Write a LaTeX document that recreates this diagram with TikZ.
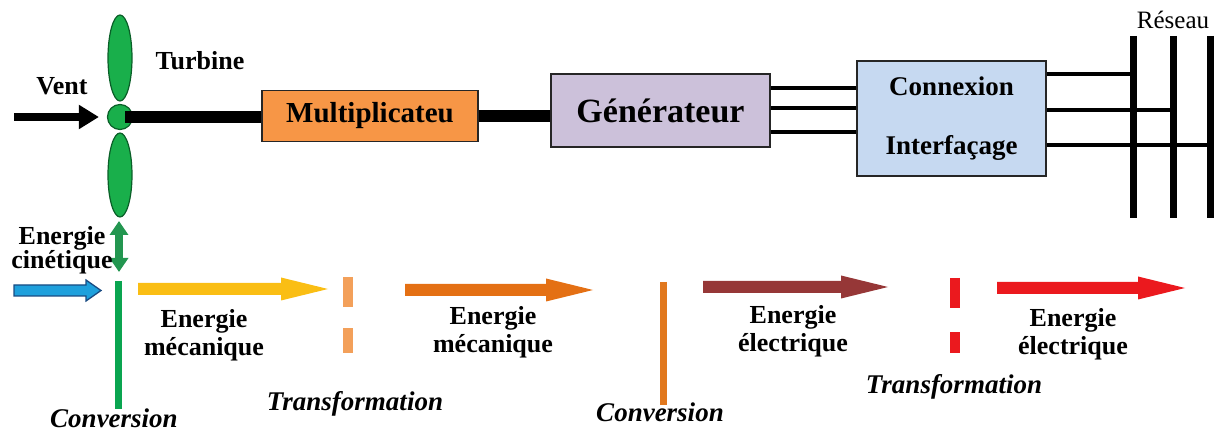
\documentclass[tikz,border=0pt]{standalone}
\usepackage{fontspec}
\setmainfont{Liberation Serif}
\usetikzlibrary{arrows.meta,shapes.geometric}

\definecolor{bladegreen}{RGB}{25,175,75}
\definecolor{bladeedge}{RGB}{10,95,40}
\definecolor{kingreen}{RGB}{35,150,80}
\definecolor{convgreen}{RGB}{10,165,80}
\definecolor{multorange}{RGB}{247,150,70}
\definecolor{genlilac}{RGB}{204,193,218}
\definecolor{connblue}{RGB}{198,217,241}
\definecolor{windblue}{RGB}{30,160,220}
\definecolor{windedge}{RGB}{25,75,130}
\definecolor{mechyellow}{RGB}{250,190,20}
\definecolor{mechorange}{RGB}{228,112,20}
\definecolor{trorange}{RGB}{243,160,90}
\definecolor{convorange}{RGB}{225,120,30}
\definecolor{elecbrown}{RGB}{150,55,55}
\definecolor{elecred}{RGB}{235,25,30}

\begin{document}
\begin{tikzpicture}[x=1pt,y=1pt,yscale=-1,
  lbl/.style={font=\fontsize{26}{28}\selectfont\bfseries,align=center,inner sep=0pt},
  steplbl/.style={font=\fontsize{27}{29}\selectfont\bfseries\itshape,inner sep=0pt},
  blockbox/.style={draw=black!85,line width=1.8pt,inner sep=0pt,font=\fontsize{26}{28}\selectfont\bfseries},
  blade/.style={ellipse,draw=bladeedge,fill=bladegreen,line width=1.2pt,minimum width=24pt,inner sep=0pt},
  shaft/.style={line width=12pt},
  wire/.style={line width=3.5pt},
  bus/.style={line width=7pt},
  trmark/.style={line width=10pt,trorange},
]
\useasboundingbox (0,0) rectangle (1218,430);

%Shape: Turbine
\node[blade,minimum height=86pt] (bladeT) at (120,58) {};
\node[blade,minimum height=84pt] (bladeB) at (120,175) {};
\node[circle,draw=bladeedge,fill=bladegreen,line width=1.2pt,minimum size=25pt,inner sep=0pt] (hub) at (120,117) {};

% Text Node
\node[lbl] (vent) at (62,86) {Vent};
\node[lbl] (turbine) at (200,61) {Turbine};
\coordinate (ventIn) at (14,117);
\draw[line width=8pt,-{Triangle[length=20pt,width=23pt]}] (ventIn) -- ([xshift=-8pt]hub.west);

%Shape: Blocks
\node[blockbox,fill=multorange,minimum width=216pt,minimum height=51pt,font=\fontsize{29}{31}\selectfont\bfseries] (mult) at (370,116) {Multiplicateu};
\node[blockbox,fill=genlilac,minimum width=219pt,minimum height=73pt,font=\fontsize{34}{36}\selectfont\bfseries] (gen) at (660.5,110.5) {Générateur};
\node[blockbox,fill=connblue,minimum width=189pt,minimum height=115pt,align=center,font=\fontsize{27}{28}\selectfont\bfseries] (conn) at (951.5,118.5) {Connexion\\[31pt]Interfaçage};

\draw[shaft] ([xshift=5pt]hub.center) -- (hub.center -| mult.west);
\draw[shaft] (mult.east) -- (mult.east -| gen.west);
\foreach \y in {88,108,132} \draw[wire] (gen.east |- 0,\y) -- (conn.west |- 0,\y);

%Shape: Reseau
\coordinate (bus1) at (1133,36);
\coordinate (bus2) at (1173,36);
\coordinate (bus3) at (1210,36);
\foreach \b in {bus1,bus2,bus3} \draw[bus] (\b) -- (\b |- 0,218);
\draw[wire] (conn.east |- 0,74) -- (bus1 |- 0,74);
\draw[wire] (conn.east |- 0,110) -- (bus2 |- 0,110);
\draw[wire] (conn.east |- 0,145) -- (bus3 |- 0,145);
\node[font=\fontsize{25}{27}\selectfont,inner sep=0pt] (reseau) at (1173,20) {Réseau};

%Shape: Energy chain
\coordinate (kinTop) at (119,221);
\coordinate (kinEnd) at (119,272);
\draw[kingreen,line width=8pt,{Triangle[length=14pt,width=18pt]}-{Triangle[length=14pt,width=18pt]}] (kinTop) -- (kinEnd);
\node[lbl,font=\fontsize{26}{24}\selectfont\bfseries] (kin) at (62,250) {Energie\\cinétique};
\draw[windedge,fill=windblue,line width=1.3pt] (14,285) -- (86,285) -- (86,280) -- (101,290.5) -- (86,301) -- (86,296) -- (14,296) -- cycle;

\draw[convgreen,line width=7pt] (118,281) -- (118,409);
\foreach \c/\a/\b/\y in {mechyellow/138/328/289, mechorange/405/593/290, elecbrown/703/888/287, elecred/997/1185/288}
  \fill[\c] (\a,\y-6) -- (\b-47,\y-6) -- (\b-47,\y-11.5) -- (\b,\y) -- (\b-47,\y+11.5) -- (\b-47,\y+6) -- (\a,\y+6) -- cycle;
\draw[trmark] (348,277) -- (348,307);
\draw[trmark] (348,328) -- (348,353);
\draw[convorange,line width=7pt] (663,282) -- (663,405);
\draw[trmark,elecred] (955,278) -- (955,308);
\draw[trmark,elecred] (955,332) -- (955,353);

% Text Node
\node[lbl] (mech1) at (204,335) {Energie\\mécanique};
\node[lbl] (mech2) at (493,332) {Energie\\mécanique};
\node[lbl] (elec1) at (793,331) {Energie\\électrique};
\node[lbl] (elec2) at (1073,334) {Energie\\électrique};
\node[steplbl] (conv1) at (114,418) {Conversion};
\node[steplbl] (transf1) at (355,404) {Transformation};
\node[steplbl] (conv2) at (660,412) {Conversion};
\node[steplbl] (transf2) at (954,387) {Transformation};

\end{tikzpicture}
\end{document}
